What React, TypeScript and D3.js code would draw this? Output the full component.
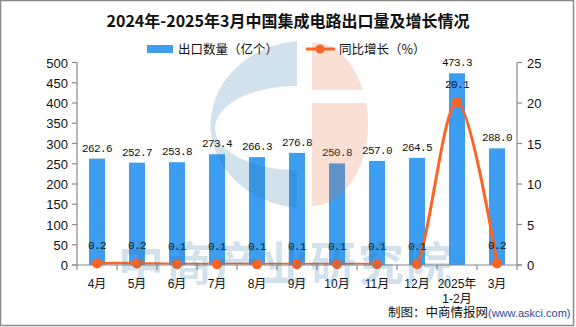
import React from "react";
import * as d3 from "d3";

const categories = ["4月", "5月", "6月", "7月", "8月", "9月", "10月", "11月", "12月", "2025年\n1-2月", "3月"];
const exportVolume = [262.6, 252.7, 253.8, 273.4, 266.3, 276.8, 250.8, 257.0, 264.5, 473.3, 288.0];
const growthRate = [0.2, 0.2, 0.1, 0.1, 0.1, 0.1, 0.1, 0.1, 0.1, 20.1, 0.2];
const leftTicks = [0, 50, 100, 150, 200, 250, 300, 350, 400, 450, 500];
const rightTicks = [0, 5, 10, 15, 20, 25];

const W = 576;
const H = 327;
const M = { left: 77, right: 517, top: 62.5, bottom: 265 };
const BAR = "#3D9DF0";
const LINE = "#FF6324";
const AXIS = "#8a8a8a";
const SANS = "'Liberation Sans', Arial, 'Noto Sans CJK SC', sans-serif";
const CJK = "'Noto Sans CJK SC', 'Liberation Sans', sans-serif";
const MONO = "'Liberation Mono', 'DejaVu Sans Mono', monospace";

export default function App() {
  const x = d3.scaleBand<string>().domain(categories).range([M.left, M.right]).paddingInner(0).paddingOuter(0);
  const yL = d3.scaleLinear().domain([0, 500]).range([M.bottom, M.top]);
  const yR = d3.scaleLinear().domain([0, 25]).range([M.bottom, M.top]);
  const bw = 16;
  const cx = (c: string) => (x(c) as number) + x.bandwidth() / 2;

  const linePath = d3
    .line<number>()
    .x((_, i) => cx(categories[i]))
    .y((d) => yR(d))
    .curve(d3.curveCardinal.tension(0))(growthRate) as string;

  const wcy = 125;
  const blueC = `M297,${wcy - 84} A97,84 0 0 0 297,${wcy + 83} Z`;
  const innerHole = `M297,86 A82,42 0 0 0 297,170 Z`;
  const orange = `M312,42 A56,82 0 0 1 312,206 Z`;

  return (
    <svg width={W} height={H} style={{ position: "absolute", left: 0, top: 0, background: "#fff" }}>
      <defs>
        <clipPath id="plotclip">
          <rect x={M.left} y={0} width={M.right - M.left} height={M.bottom - 0.5} />
        </clipPath>
      </defs>
      <rect x={0.5} y={0.5} width={W - 3} height={H - 2} fill="#fff" stroke={AXIS} strokeWidth={1.5} />
      <text x={288} y={27} textAnchor="middle" fontFamily={CJK} fontWeight="bold" fontSize={16} fill="#111">
        2024年-2025年3月中国集成电路出口量及增长情况
      </text>

      {/* legend */}
      <rect x={147} y={45} width={26} height={8} fill={BAR} />
      <text x={178} y={54} fontFamily={CJK} fontSize={12.5} fill="#111">出口数量（亿个）</text>
      <line x1={306} x2={335} y1={49} y2={49} stroke={LINE} strokeWidth={3} />
      <circle cx={320} cy={49} r={4.5} fill={LINE} />
      <text x={339} y={54} fontFamily={CJK} fontSize={12.5} fill="#111">同比增长（%）</text>

      {/* bars */}
      {exportVolume.map((v, i) => (
        <rect key={"b" + i} x={cx(categories[i]) - bw / 2} y={yL(v)} width={bw} height={yL(0) - yL(v)} fill={BAR} />
      ))}
      {exportVolume.map((v, i) => (
        <text key={"bl" + i} x={cx(categories[i])} y={yL(v) - 7} textAnchor="middle" fontFamily={MONO} fontSize={11} letterSpacing={-0.6} fill="#111">
          {v.toFixed(1)}
        </text>
      ))}

      {/* left axis */}
      <line x1={M.left} x2={M.left} y1={M.top} y2={M.bottom} stroke={AXIS} strokeWidth={1.2} />
      {leftTicks.map((t) => (
        <g key={"lt" + t}>
          <line x1={M.left - 5} x2={M.left} y1={yL(t)} y2={yL(t)} stroke={AXIS} strokeWidth={1.2} />
          <text x={M.left - 9} y={yL(t) + 5} textAnchor="end" fontFamily={SANS} fontSize={13} fill="#111">{t}</text>
        </g>
      ))}
      {/* right axis */}
      <line x1={M.right} x2={M.right} y1={M.top} y2={M.bottom} stroke={AXIS} strokeWidth={1.2} />
      {rightTicks.map((t) => (
        <g key={"rt" + t}>
          <line x1={M.right} x2={M.right + 5} y1={yR(t)} y2={yR(t)} stroke={AXIS} strokeWidth={1.2} />
          <text x={M.right + 10} y={yR(t) + 5} textAnchor="start" fontFamily={SANS} fontSize={13} fill="#111">{t}</text>
        </g>
      ))}

      {/* line series */}
      <path d={linePath} fill="none" stroke={LINE} strokeWidth={3} clipPath="url(#plotclip)" />

      {/* bottom axis */}
      <line x1={M.left - 5} x2={M.right + 5} y1={M.bottom} y2={M.bottom} stroke={AXIS} strokeWidth={1.2} />
      {categories.map((c, i) => (
        <line key={"bt" + i} x1={x(c) as number} x2={x(c) as number} y1={M.bottom} y2={M.bottom + 5} stroke={AXIS} strokeWidth={1.2} />
      ))}
      <line x1={M.right} x2={M.right} y1={M.bottom} y2={M.bottom + 5} stroke={AXIS} strokeWidth={1.2} />
      {categories.map((c, i) => (
        <text key={"xl" + i} x={cx(c)} y={288} textAnchor="middle" fontFamily={SANS} fontSize={12} fill="#111">
          {c.split("\n").map((s, j) => (
            <tspan key={j} x={cx(c)} dy={j === 0 ? 0 : 15}>{s}</tspan>
          ))}
        </text>
      ))}

      {growthRate.map((v, i) => (
        <circle key={"p" + i} cx={cx(categories[i])} cy={yR(v)} r={5} fill={LINE} />
      ))}
      {growthRate.map((v, i) => (
        <text key={"pl" + i} x={cx(categories[i])} y={yR(v) - 14} textAnchor="middle" fontFamily={MONO} fontSize={11} letterSpacing={-0.6} fill="#111">
          {v.toFixed(1)}
        </text>
      ))}

      {/* watermark */}
      <g opacity={0.2} style={{ pointerEvents: "none" }}>
        <mask id="cmask">
          <rect x={0} y={0} width={W} height={H} fill="#fff" />
          <path d={innerHole} fill="#000" />
        </mask>
        <path d={blueC} fill="#2373AA" mask="url(#cmask)" />
        <path d={orange} fill="#EA6432" />
        <rect x={312} y={90} width={60} height={13} fill="#fff" />
        <text x={118} y={280} fontFamily={CJK} fontWeight="bold" fontSize={46} textLength={334} lengthAdjust="spacing" fill="#2373AA">
          中商产业研究院
        </text>
      </g>

      {/* credit */}
      <text x={388} y={317} fontFamily={CJK} fontSize={12.5} fill="#111">
        制图：中商情报网
        <tspan fontFamily={SANS} fontSize={11} fill="#1F4E9A">(www.askci.com)</tspan>
      </text>
    </svg>
  );
}
